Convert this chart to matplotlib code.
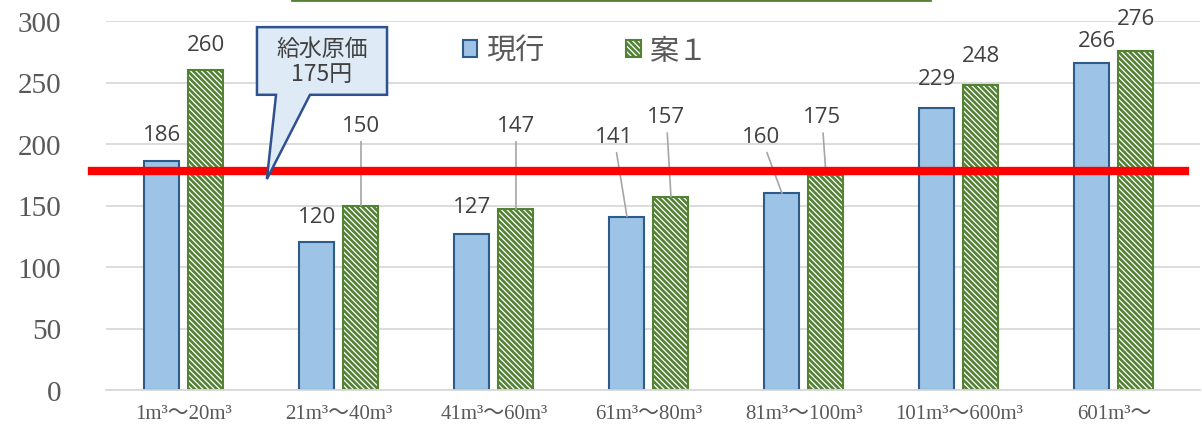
import numpy as np
import matplotlib.pyplot as plt
from matplotlib.patches import Polygon
from matplotlib.lines import Line2D

plt.rcParams['hatch.linewidth'] = 1.9

categories = ["1m³～20m³", "21m³～40m³", "41m³～60m³", "61m³～80m³",
              "81m³～100m³", "101m³～600m³", "601m³～"]
genko = [186, 120, 127, 141, 160, 229, 266]
an1 = [260, 150, 147, 157, 175, 248, 276]
legend_names = ["現行", "案１"]
cost_label = "給水原価\n175円"
cost_line = 178

# label placement (layout): x offset from bar, y position, leader line?
genko_lbl = [(0, 208, False), (0, 141, False), (0, 149, False), (-0.084, 206, True),
             (-0.135, 206, True), (0, 253, False), (0.03, 284, False)]
an1_lbl = [(0, 281, False), (0, 215, True), (0, 215, True), (-0.03, 222, True),
           (-0.026, 222, True), (0, 272, False), (0, 302, False)]

jp = ['Noto Sans CJK JP', 'DejaVu Sans']
serif = ['Liberation Serif', 'Noto Sans CJK JP']

fig = plt.figure(figsize=(12.02, 4.35), dpi=100)
ax = fig.add_axes([106 / 1202, 44 / 435, 1094 / 1202, 369 / 435])

x = np.arange(len(categories))
w = 0.226
off = 0.142
b1 = ax.bar(x - off, genko, w, color='#9DC3E6', edgecolor='#2E5C8A', linewidth=1.5,
            label=legend_names[0], zorder=2)
b2 = ax.bar(x + off, an1, w, color='white', edgecolor='#548235', hatch='\\\\\\\\\\\\',
            linewidth=1.5, label=legend_names[1], zorder=2)

ax.set_ylim(0, 300)
ax.set_xlim(-0.503, 6.555)
ax.set_yticks(np.arange(0, 301, 50))
ax.yaxis.grid(True, color='#D9D9D9', linewidth=1.3)
ax.set_axisbelow(True)
for s in ['top', 'right', 'left']:
    ax.spines[s].set_visible(False)
ax.spines['bottom'].set_color('#D9D9D9')
ax.spines['bottom'].set_linewidth(1.3)
ax.tick_params(axis='both', length=0)
ax.tick_params(axis='y', pad=32)
ax.tick_params(axis='x', pad=10)
ax.set_xticks(x)
ax.set_xticklabels(categories, family=serif, fontsize=15, color='#595959')
for t in ax.get_yticklabels():
    t.set_family(serif)
    t.set_fontsize(21)
    t.set_color('#595959')


def put_labels(xs, vals, lbl):
    for xi, v, (dx, ly, lead) in zip(xs, vals, lbl):
        if lead:
            ax.annotate(str(v), xy=(xi, v), xytext=(xi + dx, ly), ha='center', va='center',
                        fontsize=16, family='Open Sans', color='#404040',
                        arrowprops=dict(arrowstyle='-', color='#A6A6A6', lw=1.2,
                                        shrinkA=2, shrinkB=0))
        else:
            ax.text(xi + dx, ly, str(v), ha='center', va='center', fontsize=16,
                    family='Open Sans', color='#404040')


put_labels(x - off, genko, genko_lbl)
put_labels(x + off, an1, an1_lbl)

# cost line
ax.axhline(cost_line, xmin=-0.0128, xmax=0.986, color='#FF0000', lw=6, clip_on=False, zorder=3)

# callout
L, R, T, B = 0.471, 1.310, 295, 240
call = Polygon([(L, T), (R, T), (R, B), (0.813, B), (0.535, 171.5), (0.594, B), (L, B)],
               closed=True, facecolor='#DEEBF7', edgecolor='#2F528F', lw=1.8, zorder=4,
               clip_on=False)
ax.add_patch(call)
ax.text((L + R) / 2, (T + B) / 2, cost_label, ha='center', va='center', fontsize=16.5,
        family=jp, color='#404040', linespacing=1.15, zorder=5)

leg = ax.legend(loc='center', bbox_to_anchor=(0.438, 0.919), ncol=2, frameon=False,
                prop={'family': jp, 'size': 21}, handlelength=0.5, handleheight=0.5,
                columnspacing=2.8, handletextpad=0.3)
for t in leg.get_texts():
    t.set_color('#595959')

# top border fragment of the title box
fig.add_artist(Line2D([292 / 1202, 930 / 1202], [1 - 1 / 435, 1 - 1 / 435],
                      color='#548235', lw=2))

fig.savefig('out.png', dpi=100)
